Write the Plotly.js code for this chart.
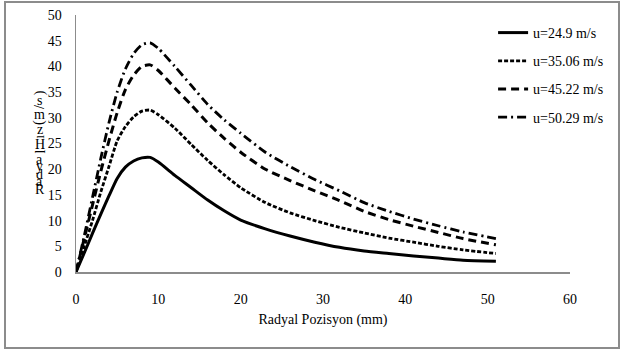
<!DOCTYPE html>
<html>
<head>
<meta charset="utf-8">
<script src="https://cdn.plot.ly/plotly-3.0.1.min.js"></script>
<style>
  html, body { margin: 0; padding: 0; background: #fff; }
  #wrap { position: relative; width: 621px; height: 354px; }
  #chart { width: 621px; height: 354px; }
  #frame { position: absolute; left: 4px; top: 1px; width: 616px; height: 348px;
           box-sizing: border-box; border: 2px solid #8c8c8c; pointer-events: none; }
</style>
</head>
<body>
<div id="wrap"><div id="chart"></div><div id="frame"></div></div>
<script>
// Radial position (mm)
const radialPos = [0, 1, 2, 3, 4, 5, 6, 7, 8, 9, 10, 12, 14, 16, 18, 20, 23, 26, 29, 32, 35, 38, 41, 44, 47, 51];
// Radial velocity (m/s) for each inlet velocity
const v_24_9  = [0, 3.7, 7.5, 11.2, 14.8, 18.2, 20.4, 21.6, 22.2, 22.3, 21.4, 18.8, 16.4, 14.0, 11.9, 10.1, 8.4, 7.0, 5.8, 4.8, 4.1, 3.6, 3.1, 2.7, 2.3, 2.1];
const v_35_06 = [0, 5.0, 10.0, 15.5, 20.5, 25.5, 28.3, 30.2, 31.3, 31.5, 30.6, 28.0, 24.8, 21.7, 18.9, 16.4, 13.5, 11.5, 10.0, 8.7, 7.6, 6.6, 5.8, 5.0, 4.3, 3.6];
const v_45_22 = [0, 6.5, 13.0, 19.5, 25.5, 31.0, 35.5, 38.3, 40.0, 40.3, 39.2, 35.8, 32.5, 29.0, 26.0, 23.3, 20.0, 17.8, 15.8, 13.9, 11.8, 10.2, 8.9, 7.7, 6.5, 5.3];
const v_50_29 = [0, 7.0, 14.5, 22.0, 29.0, 35.0, 39.5, 42.5, 44.2, 44.6, 43.5, 40.0, 36.3, 32.6, 29.6, 27.0, 23.3, 20.5, 18.0, 15.8, 13.5, 11.8, 10.3, 9.0, 7.8, 6.5];
const seriesNames = ["u=24.9 m/s", "u=35.06 m/s", "u=45.22 m/s", "u=50.29 m/s"];
const xTitle = "Radyal Pozisyon (mm)";
const yTitleChars = ["R", "a", "d", "y", "a", "l", "H", "ı", "z", "(", "m", "/", "s", ")"];

const FONT = "Liberation Serif, Times New Roman, serif";
const W = 621, H = 354;
const M = {l: 76, r: 44, t: 15, b: 82};
const pw = W - M.l - M.r, ph = H - M.t - M.b;
const px2x = p => (p - M.l) / pw;
const py2y = p => (H - M.b - p) / ph;

const series = [v_24_9, v_35_06, v_45_22, v_50_29];
const dashes = ["solid", "4px,2px", "8px,5px", "9px,4px,2px,4px"];
const widths = [3, 2.8, 3, 2.8];

const traces = series.map((ys, i) => ({
  x: radialPos, y: ys, type: "scatter", mode: "lines", name: seriesNames[i],
  legendgroup: "g" + i,
  line: {color: "#000", width: widths[i], dash: dashes[i], shape: "spline", smoothing: 0.6}
}));

// Stacked y-axis title characters (bottom to top)
const annotations = yTitleChars.map((c, i) => {
  const rotated = ["(", ")", "/", "l", "ı"].includes(c);
  return {
    text: c, xref: "paper", yref: "paper", showarrow: false,
    x: px2x(39), y: py2y(189 - i * 7.4), xanchor: "center", yanchor: "middle",
    textangle: rotated ? -90 : 0,
    font: {family: FONT, size: 14, color: "#000"}
  };
});

const layout = {
  width: W, height: H, margin: M,
  paper_bgcolor: "#fff", plot_bgcolor: "#fff",
  font: {family: FONT, size: 14, color: "#000"},
  showlegend: true,
  legend: {x: px2x(499), y: py2y(17), xanchor: "left", yanchor: "top",
           tracegroupgap: 7, font: {family: FONT, size: 14, color: "#000"},
           bgcolor: "rgba(0,0,0,0)"},
  xaxis: {range: [0, 60], dtick: 10, tick0: 0, showgrid: false, zeroline: false,
          showline: true, linecolor: "#8c8c8c", linewidth: 1.5, ticks: "",
          ticklabelstandoff: 14,
          tickfont: {family: FONT, size: 14, color: "#000"},
          title: {text: xTitle, font: {family: FONT, size: 14, color: "#000"}, standoff: 8}},
  yaxis: {range: [0, 50], dtick: 5, tick0: 0, showgrid: false, zeroline: false,
          showline: true, linecolor: "#8c8c8c", linewidth: 1.5, ticks: "",
          ticklabelstandoff: 10,
          tickfont: {family: FONT, size: 14, color: "#000"}},
  annotations: annotations
};

Plotly.newPlot("chart", traces, layout, {displayModeBar: false, staticPlot: true});
</script>
</body>
</html>
